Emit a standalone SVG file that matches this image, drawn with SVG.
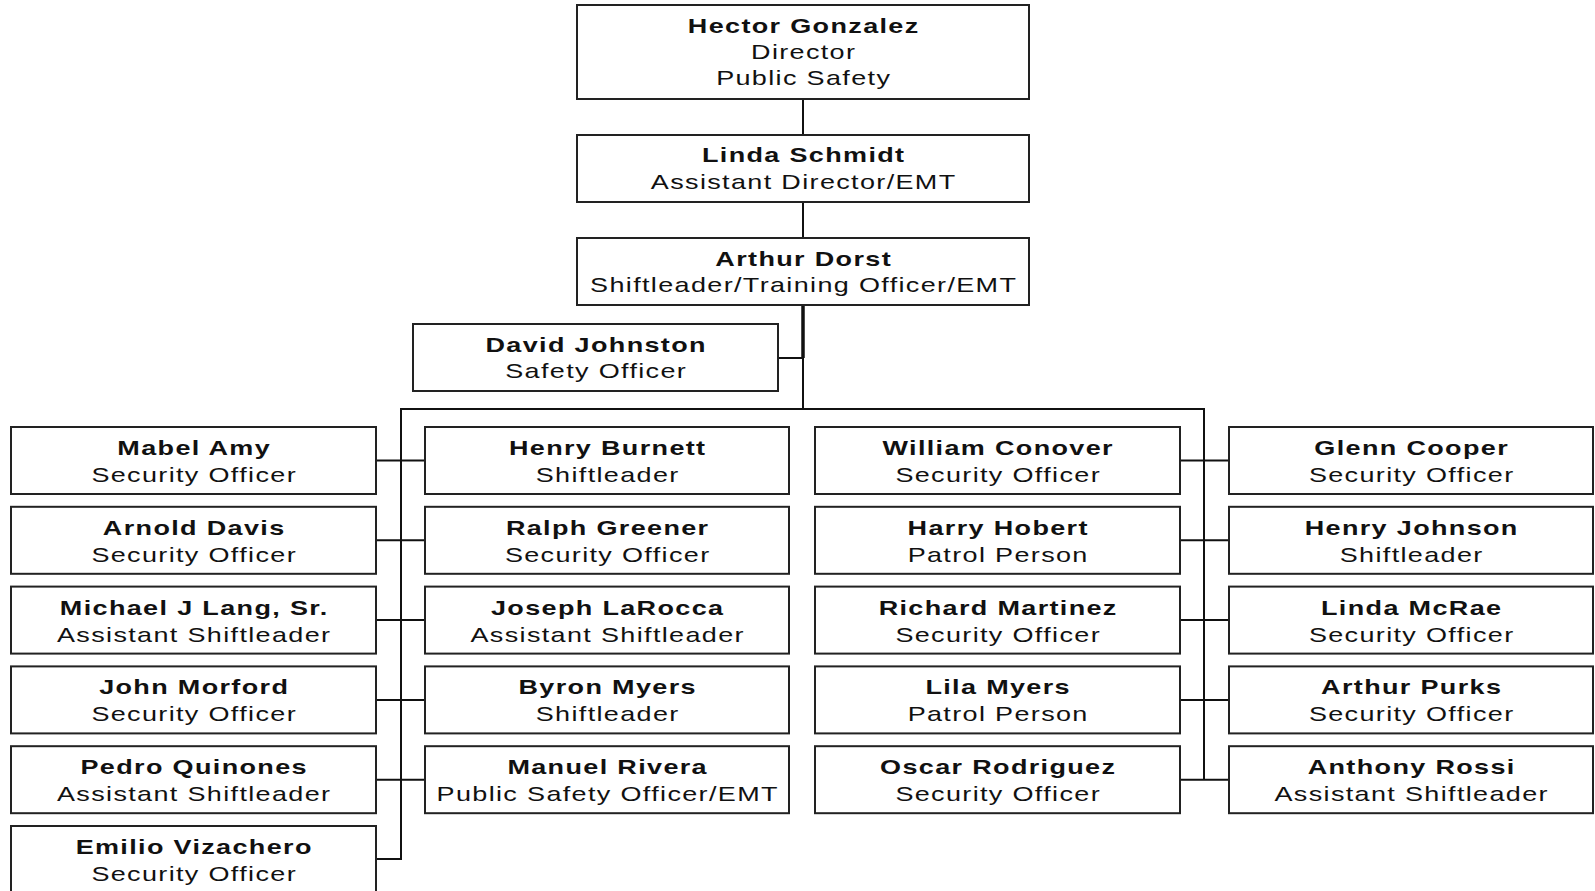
<svg xmlns="http://www.w3.org/2000/svg" width="1595" height="891" viewBox="0 0 1595 891">
<style>
.box{fill:#fff;stroke:#222;stroke-width:2}
.ln{stroke:#111;stroke-width:2;fill:none}
.b,.r{font-family:"Liberation Sans",Arial,sans-serif;font-size:20px;letter-spacing:1px;text-anchor:middle;fill:#111}
.b{font-weight:bold}
</style>
<rect width="1595" height="891" fill="#fff"/>
<g id="connectors">
<line class="ln" x1="803" y1="99" x2="803" y2="135"/>
<line class="ln" x1="803" y1="202" x2="803" y2="238"/>
<line class="ln" x1="803" y1="305" x2="803" y2="358" style="stroke-width:3.5"/>
<line class="ln" x1="803" y1="356" x2="803" y2="410"/>
<line class="ln" x1="778" y1="358" x2="803" y2="358"/>
<line class="ln" x1="400" y1="409" x2="1205" y2="409"/>
<line class="ln" x1="401" y1="408" x2="401" y2="860"/>
<line class="ln" x1="1204" y1="408" x2="1204" y2="780"/>
<line class="ln" x1="376" y1="460.5" x2="425" y2="460.5"/>
<line class="ln" x1="376" y1="540.3" x2="425" y2="540.3"/>
<line class="ln" x1="376" y1="620.1" x2="425" y2="620.1"/>
<line class="ln" x1="376" y1="699.9" x2="425" y2="699.9"/>
<line class="ln" x1="376" y1="779.7" x2="425" y2="779.7"/>
<line class="ln" x1="376" y1="859" x2="402" y2="859"/>
<line class="ln" x1="1180" y1="460.5" x2="1229" y2="460.5"/>
<line class="ln" x1="1180" y1="540.3" x2="1229" y2="540.3"/>
<line class="ln" x1="1180" y1="620.1" x2="1229" y2="620.1"/>
<line class="ln" x1="1180" y1="699.9" x2="1229" y2="699.9"/>
<line class="ln" x1="1180" y1="779.7" x2="1229" y2="779.7"/>
</g>
<g id="hector"><rect class="box" x="577" y="5" width="452" height="94"/>
<g transform="translate(803 0) scale(1.35 1)"><text class="b" x="0.5" y="33">Hector Gonzalez</text><text class="r" x="0.5" y="59">Director</text><text class="r" x="0.5" y="85">Public Safety</text></g></g>
<g id="linda-schmidt"><rect class="box" x="577" y="135" width="452" height="67"/>
<g transform="translate(803 0) scale(1.35 1)"><text class="b" x="0.5" y="162">Linda Schmidt</text><text class="r" x="0.5" y="189">Assistant Director/EMT</text></g></g>
<g id="arthur-dorst"><rect class="box" x="577" y="238" width="452" height="67"/>
<g transform="translate(803 0) scale(1.35 1)"><text class="b" x="0.5" y="266">Arthur Dorst</text><text class="r" x="0.5" y="292">Shiftleader/Training Officer/EMT</text></g></g>
<g id="david-johnston"><rect class="box" x="413" y="324" width="365" height="67"/>
<g transform="translate(595.5 0) scale(1.35 1)"><text class="b" x="0.5" y="352">David Johnston</text><text class="r" x="0.5" y="378">Safety Officer</text></g></g>

<g id="mabel-amy"><rect class="box" x="11" y="427" width="365" height="67"/>
<g transform="translate(193.5 0) scale(1.35 1)"><text class="b" x="0.5" y="455">Mabel Amy</text><text class="r" x="0.5" y="482">Security Officer</text></g></g>
<g id="arnold-davis"><rect class="box" x="11" y="506.8" width="365" height="67"/>
<g transform="translate(193.5 0) scale(1.35 1)"><text class="b" x="0.5" y="534.8">Arnold Davis</text><text class="r" x="0.5" y="561.8">Security Officer</text></g></g>
<g id="michael-lang"><rect class="box" x="11" y="586.6" width="365" height="67"/>
<g transform="translate(193.5 0) scale(1.35 1)"><text class="b" x="0.5" y="614.6">Michael J Lang, Sr.</text><text class="r" x="0.5" y="641.6">Assistant Shiftleader</text></g></g>
<g id="john-morford"><rect class="box" x="11" y="666.4" width="365" height="67"/>
<g transform="translate(193.5 0) scale(1.35 1)"><text class="b" x="0.5" y="694.4">John Morford</text><text class="r" x="0.5" y="721.4">Security Officer</text></g></g>
<g id="pedro-quinones"><rect class="box" x="11" y="746.2" width="365" height="67"/>
<g transform="translate(193.5 0) scale(1.35 1)"><text class="b" x="0.5" y="774.2">Pedro Quinones</text><text class="r" x="0.5" y="801.2">Assistant Shiftleader</text></g></g>
<g id="emilio-vizachero"><rect class="box" x="11" y="826" width="365" height="67"/>
<g transform="translate(193.5 0) scale(1.35 1)"><text class="b" x="0.5" y="854">Emilio Vizachero</text><text class="r" x="0.5" y="881">Security Officer</text></g></g>

<g id="henry-burnett"><rect class="box" x="425" y="427" width="364" height="67"/>
<g transform="translate(607 0) scale(1.35 1)"><text class="b" x="0.5" y="455">Henry Burnett</text><text class="r" x="0.5" y="482">Shiftleader</text></g></g>
<g id="ralph-greener"><rect class="box" x="425" y="506.8" width="364" height="67"/>
<g transform="translate(607 0) scale(1.35 1)"><text class="b" x="0.5" y="534.8">Ralph Greener</text><text class="r" x="0.5" y="561.8">Security Officer</text></g></g>
<g id="joseph-larocca"><rect class="box" x="425" y="586.6" width="364" height="67"/>
<g transform="translate(607 0) scale(1.35 1)"><text class="b" x="0.5" y="614.6">Joseph LaRocca</text><text class="r" x="0.5" y="641.6">Assistant Shiftleader</text></g></g>
<g id="byron-myers"><rect class="box" x="425" y="666.4" width="364" height="67"/>
<g transform="translate(607 0) scale(1.35 1)"><text class="b" x="0.5" y="694.4">Byron Myers</text><text class="r" x="0.5" y="721.4">Shiftleader</text></g></g>
<g id="manuel-rivera"><rect class="box" x="425" y="746.2" width="364" height="67"/>
<g transform="translate(607 0) scale(1.35 1)"><text class="b" x="0.5" y="774.2">Manuel Rivera</text><text class="r" x="0.5" y="801.2">Public Safety Officer/EMT</text></g></g>

<g id="william-conover"><rect class="box" x="815" y="427" width="365" height="67"/>
<g transform="translate(997.5 0) scale(1.35 1)"><text class="b" x="0.5" y="455">William Conover</text><text class="r" x="0.5" y="482">Security Officer</text></g></g>
<g id="harry-hobert"><rect class="box" x="815" y="506.8" width="365" height="67"/>
<g transform="translate(997.5 0) scale(1.35 1)"><text class="b" x="0.5" y="534.8">Harry Hobert</text><text class="r" x="0.5" y="561.8">Patrol Person</text></g></g>
<g id="richard-martinez"><rect class="box" x="815" y="586.6" width="365" height="67"/>
<g transform="translate(997.5 0) scale(1.35 1)"><text class="b" x="0.5" y="614.6">Richard Martinez</text><text class="r" x="0.5" y="641.6">Security Officer</text></g></g>
<g id="lila-myers"><rect class="box" x="815" y="666.4" width="365" height="67"/>
<g transform="translate(997.5 0) scale(1.35 1)"><text class="b" x="0.5" y="694.4">Lila Myers</text><text class="r" x="0.5" y="721.4">Patrol Person</text></g></g>
<g id="oscar-rodriguez"><rect class="box" x="815" y="746.2" width="365" height="67"/>
<g transform="translate(997.5 0) scale(1.35 1)"><text class="b" x="0.5" y="774.2">Oscar Rodriguez</text><text class="r" x="0.5" y="801.2">Security Officer</text></g></g>

<g id="glenn-cooper"><rect class="box" x="1229" y="427" width="364" height="67"/>
<g transform="translate(1411 0) scale(1.35 1)"><text class="b" x="0.5" y="455">Glenn Cooper</text><text class="r" x="0.5" y="482">Security Officer</text></g></g>
<g id="henry-johnson"><rect class="box" x="1229" y="506.8" width="364" height="67"/>
<g transform="translate(1411 0) scale(1.35 1)"><text class="b" x="0.5" y="534.8">Henry Johnson</text><text class="r" x="0.5" y="561.8">Shiftleader</text></g></g>
<g id="linda-mcrae"><rect class="box" x="1229" y="586.6" width="364" height="67"/>
<g transform="translate(1411 0) scale(1.35 1)"><text class="b" x="0.5" y="614.6">Linda McRae</text><text class="r" x="0.5" y="641.6">Security Officer</text></g></g>
<g id="arthur-purks"><rect class="box" x="1229" y="666.4" width="364" height="67"/>
<g transform="translate(1411 0) scale(1.35 1)"><text class="b" x="0.5" y="694.4">Arthur Purks</text><text class="r" x="0.5" y="721.4">Security Officer</text></g></g>
<g id="anthony-rossi"><rect class="box" x="1229" y="746.2" width="364" height="67"/>
<g transform="translate(1411 0) scale(1.35 1)"><text class="b" x="0.5" y="774.2">Anthony Rossi</text><text class="r" x="0.5" y="801.2">Assistant Shiftleader</text></g></g>
</svg>
